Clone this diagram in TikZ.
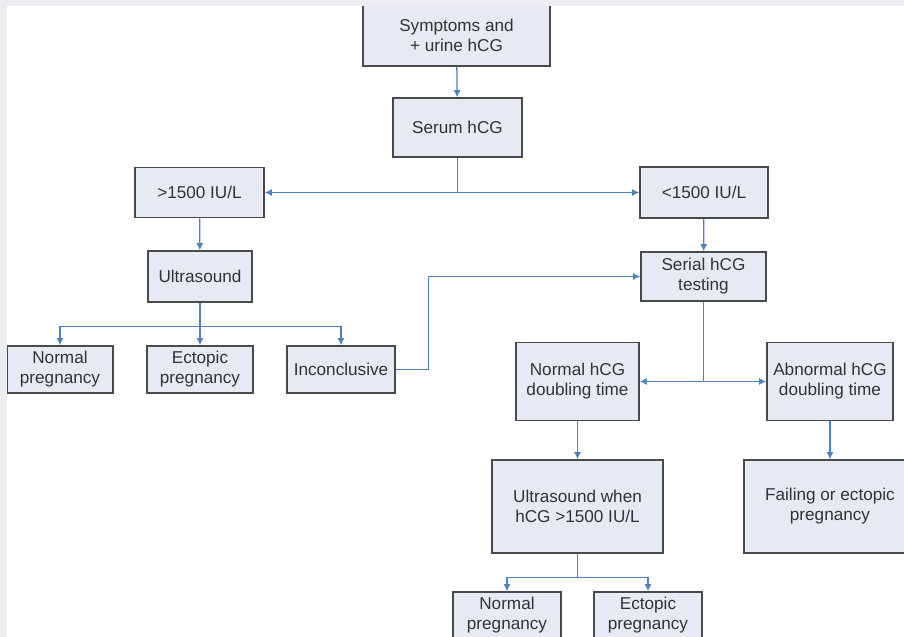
\documentclass[tikz,border=0pt]{standalone}
\usepackage{fontspec}
\setmainfont{Liberation Sans}
\usetikzlibrary{arrows.meta,positioning}
\definecolor{boxfill}{HTML}{E6EAF5}
\definecolor{boxline}{HTML}{4A4A4A}
\definecolor{linkblue}{HTML}{4F81BD}
\definecolor{textgray}{HTML}{333333}
\definecolor{framegray}{HTML}{ECEDF0}

\begin{document}
\begin{tikzpicture}[
    x=0.025cm, y=-0.025cm,
    stage/.style={
      draw=boxline, line width=1.1pt, fill=boxfill,
      text=textgray, align=center, inner sep=2pt,
      font=\fontsize{12.2}{14.2}\selectfont,
      minimum width=#1,
    },
    link/.style={-{Latex[length=5pt,width=5pt]}, line width=0.9pt, linkblue},
    trunk/.style={line width=0.9pt, linkblue},
  ]

  % Canvas: 904 x 637 px, one px = 0.025cm
  \useasboundingbox (0,0) rectangle (904,637);
  \clip (0,0) rectangle (904,637);
  \fill[white] (0,0) rectangle (904,637);

  % =================== Top: entry ===================
  \node[stage=4.675cm, minimum height=1.55cm] (symp) at (456.5,35) {Symptoms and\\+ urine hCG};
  \node[stage=3.225cm, minimum height=1.475cm] (serum) at (457.5,127.5) {Serum hCG};

  % =================== Split on serum level ===================
  \node[stage=3.225cm, minimum height=1.25cm] (high) at (199.5,192.5) {>1500 IU/L};
  \node[stage=3.2cm, minimum height=1.275cm] (low) at (704,192.5) {<1500 IU/L};

  % =================== Left branch: >1500 ===================
  \node[stage=2.6cm, minimum height=1.275cm] (scan) at (200,276.5) {Ultrasound};
  \node[stage=2.65cm, minimum height=1.175cm] (normal1) at (60,369.5) {Normal\\pregnancy};
  \node[stage=2.65cm, minimum height=1.175cm] (ectopic1) at (200,369.5) {Ectopic\\pregnancy};
  \node[stage=2.7cm, minimum height=1.175cm] (unclear) at (341,369.5) {Inconclusive};

  % =================== Right branch: <1500 ===================
  \node[stage=3.125cm, minimum height=1.225cm] (serial) at (703.5,276.5) {Serial hCG\\testing};
  \node[stage=3.075cm, minimum height=1.95cm] (okdouble) at (577.5,381.5) {Normal hCG\\doubling time};
  \node[stage=3.15cm, minimum height=1.95cm] (baddouble) at (830,381.5) {Abnormal hCG\\doubling time};
  \node[stage=4.275cm, minimum height=2.325cm] (laterscan) at (577.5,506.5) {Ultrasound when\\hCG >1500 IU/L};
  \node[stage=4.3cm, minimum height=2.325cm] (failing) at (830,506.5) {Failing or ectopic\\pregnancy};
  \node[stage=2.7cm, minimum height=1.175cm] (normal2) at (507,615.5) {Normal\\pregnancy};
  \node[stage=2.7cm, minimum height=1.175cm] (ectopic2) at (648,615.5) {Ectopic\\pregnancy};

  % =================== Connectors ===================
  \draw[link] (symp) -- (serum);
  \draw[link] (serum.south) |- (high.east);
  \draw[link] (serum.south) |- (low.west);

  \draw[link] (high) -- (scan);
  \draw[trunk] (scan.south) -- ++(0,23.5) coordinate (scanfork);
  \draw[link] (scanfork) -| (normal1.north);
  \draw[link] (scanfork) -- (ectopic1.north);
  \draw[link] (scanfork) -| (unclear.north);

  % Inconclusive goes back to serial testing
  \draw[link] (unclear.east) -- ++(33,0) |- (serial.west);

  \draw[link] (low) -- (serial);
  \draw[link] (serial.south) |- (okdouble.east);
  \draw[link] (serial.south) |- (baddouble.west);
  \draw[link] (okdouble) -- (laterscan);
  \draw[link] (baddouble) -- (failing);

  \draw[trunk] (laterscan.south) -- ++(0,24) coordinate (laterfork);
  \draw[link] (laterfork) -| (normal2.north);
  \draw[link] (laterfork) -| (ectopic2.north);

  % Page frame strips
  \fill[framegray] (0,0) rectangle (904,6);
  \fill[framegray] (0,0) rectangle (7,637);

\end{tikzpicture}
\end{document}
